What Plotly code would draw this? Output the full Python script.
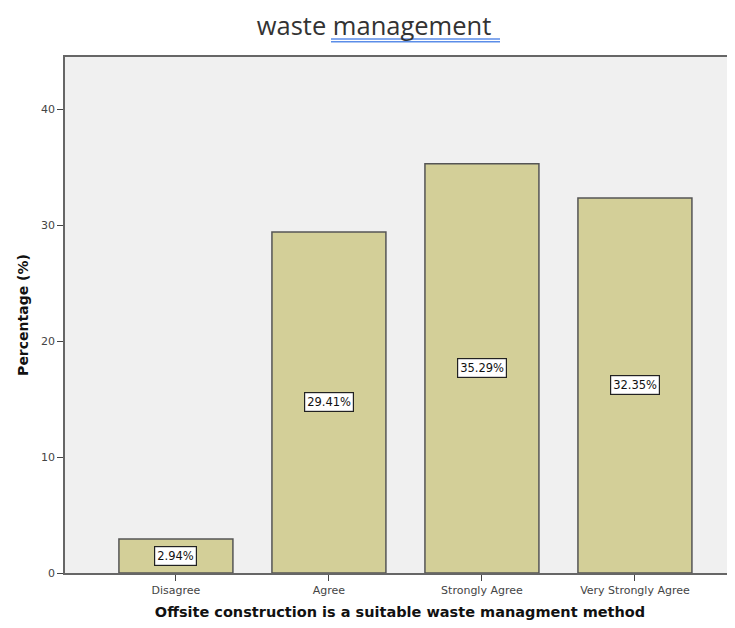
import plotly.graph_objects as go

categories = ["Disagree", "Agree", "Strongly Agree", "Very Strongly Agree"]
percentages = [2.94, 29.41, 35.29, 32.35]
labels = ["2.94%", "29.41%", "35.29%", "32.35%"]
y_ticks = [0, 10, 20, 30, 40]

# the page adds an 8px body margin, so the figure is offset by (8, 8)
W, H = 727, 612
L, R, T, B = 57, 0, 49, 47
PW, PH = W - L - R, H - T - B


def px_x(fx):
    return (fx - L) / PW


def px_y(fy):
    return 1 + (T - fy) / PH


fig = go.Figure()
fig.add_trace(go.Bar(
    x=list(range(len(categories))), y=percentages, width=0.745,
    marker=dict(color="#d3cf98", line=dict(color="#555555", width=1.5)),
    hoverinfo="skip",
))

for i, (v, lab) in enumerate(zip(percentages, labels)):
    fig.add_annotation(
        x=i, y=v / 2, text=lab, showarrow=False,
        font=dict(family="DejaVu Sans", size=11.5, color="#111111"),
        bgcolor="white", bordercolor="#222222", borderwidth=1.2, borderpad=2,
    )

fig.update_layout(
    width=W, height=H,
    margin=dict(l=L, r=R, t=T, b=B, autoexpand=False),
    paper_bgcolor="white", plot_bgcolor="#f0f0f0",
    showlegend=False,
    title=dict(text="waste management", x=366 / W, xref="container", xanchor="center",
               y=1 - 18 / H, yref="container", yanchor="middle",
               font=dict(family="Open Sans", size=25.5, color="#333333")),
    xaxis=dict(
        tickmode="array", tickvals=list(range(len(categories))), ticktext=categories,
        range=[-0.725, 3.654], showgrid=False, zeroline=False,
        showline=True, linecolor="#666666", linewidth=1.5, mirror=True,
        ticks="outside", ticklen=6, tickcolor="#444444",
        tickfont=dict(family="DejaVu Sans", size=11, color="#444444"),
        automargin=False,
        title=dict(text="<b>Offsite construction is a suitable waste managment method</b>",
                   font=dict(family="DejaVu Sans", size=14.5, color="#111111"),
                   standoff=11),
    ),
    yaxis=dict(
        tickmode="array", tickvals=y_ticks, range=[0, 44.5],
        showgrid=False, zeroline=False,
        showline=True, linecolor="#666666", linewidth=1.5,
        ticks="outside", ticklen=6, tickcolor="#444444",
        tickfont=dict(family="DejaVu Sans", size=11, color="#444444"),
        automargin=False,
        title=dict(text="<b>Percentage (%)</b>",
                   font=dict(family="DejaVu Sans", size=14, color="#111111"),
                   standoff=9),
    ),
    shapes=[
        dict(type="line", xref="paper", yref="paper",
             x0=px_x(323), x1=px_x(492), y0=px_y(31), y1=px_y(31),
             line=dict(color="#5b8de8", width=1.4)),
        dict(type="line", xref="paper", yref="paper",
             x0=px_x(323), x1=px_x(492), y0=px_y(33.7), y1=px_y(33.7),
             line=dict(color="#5b8de8", width=1.4)),
    ],
)

fig.write_html("out.html")
